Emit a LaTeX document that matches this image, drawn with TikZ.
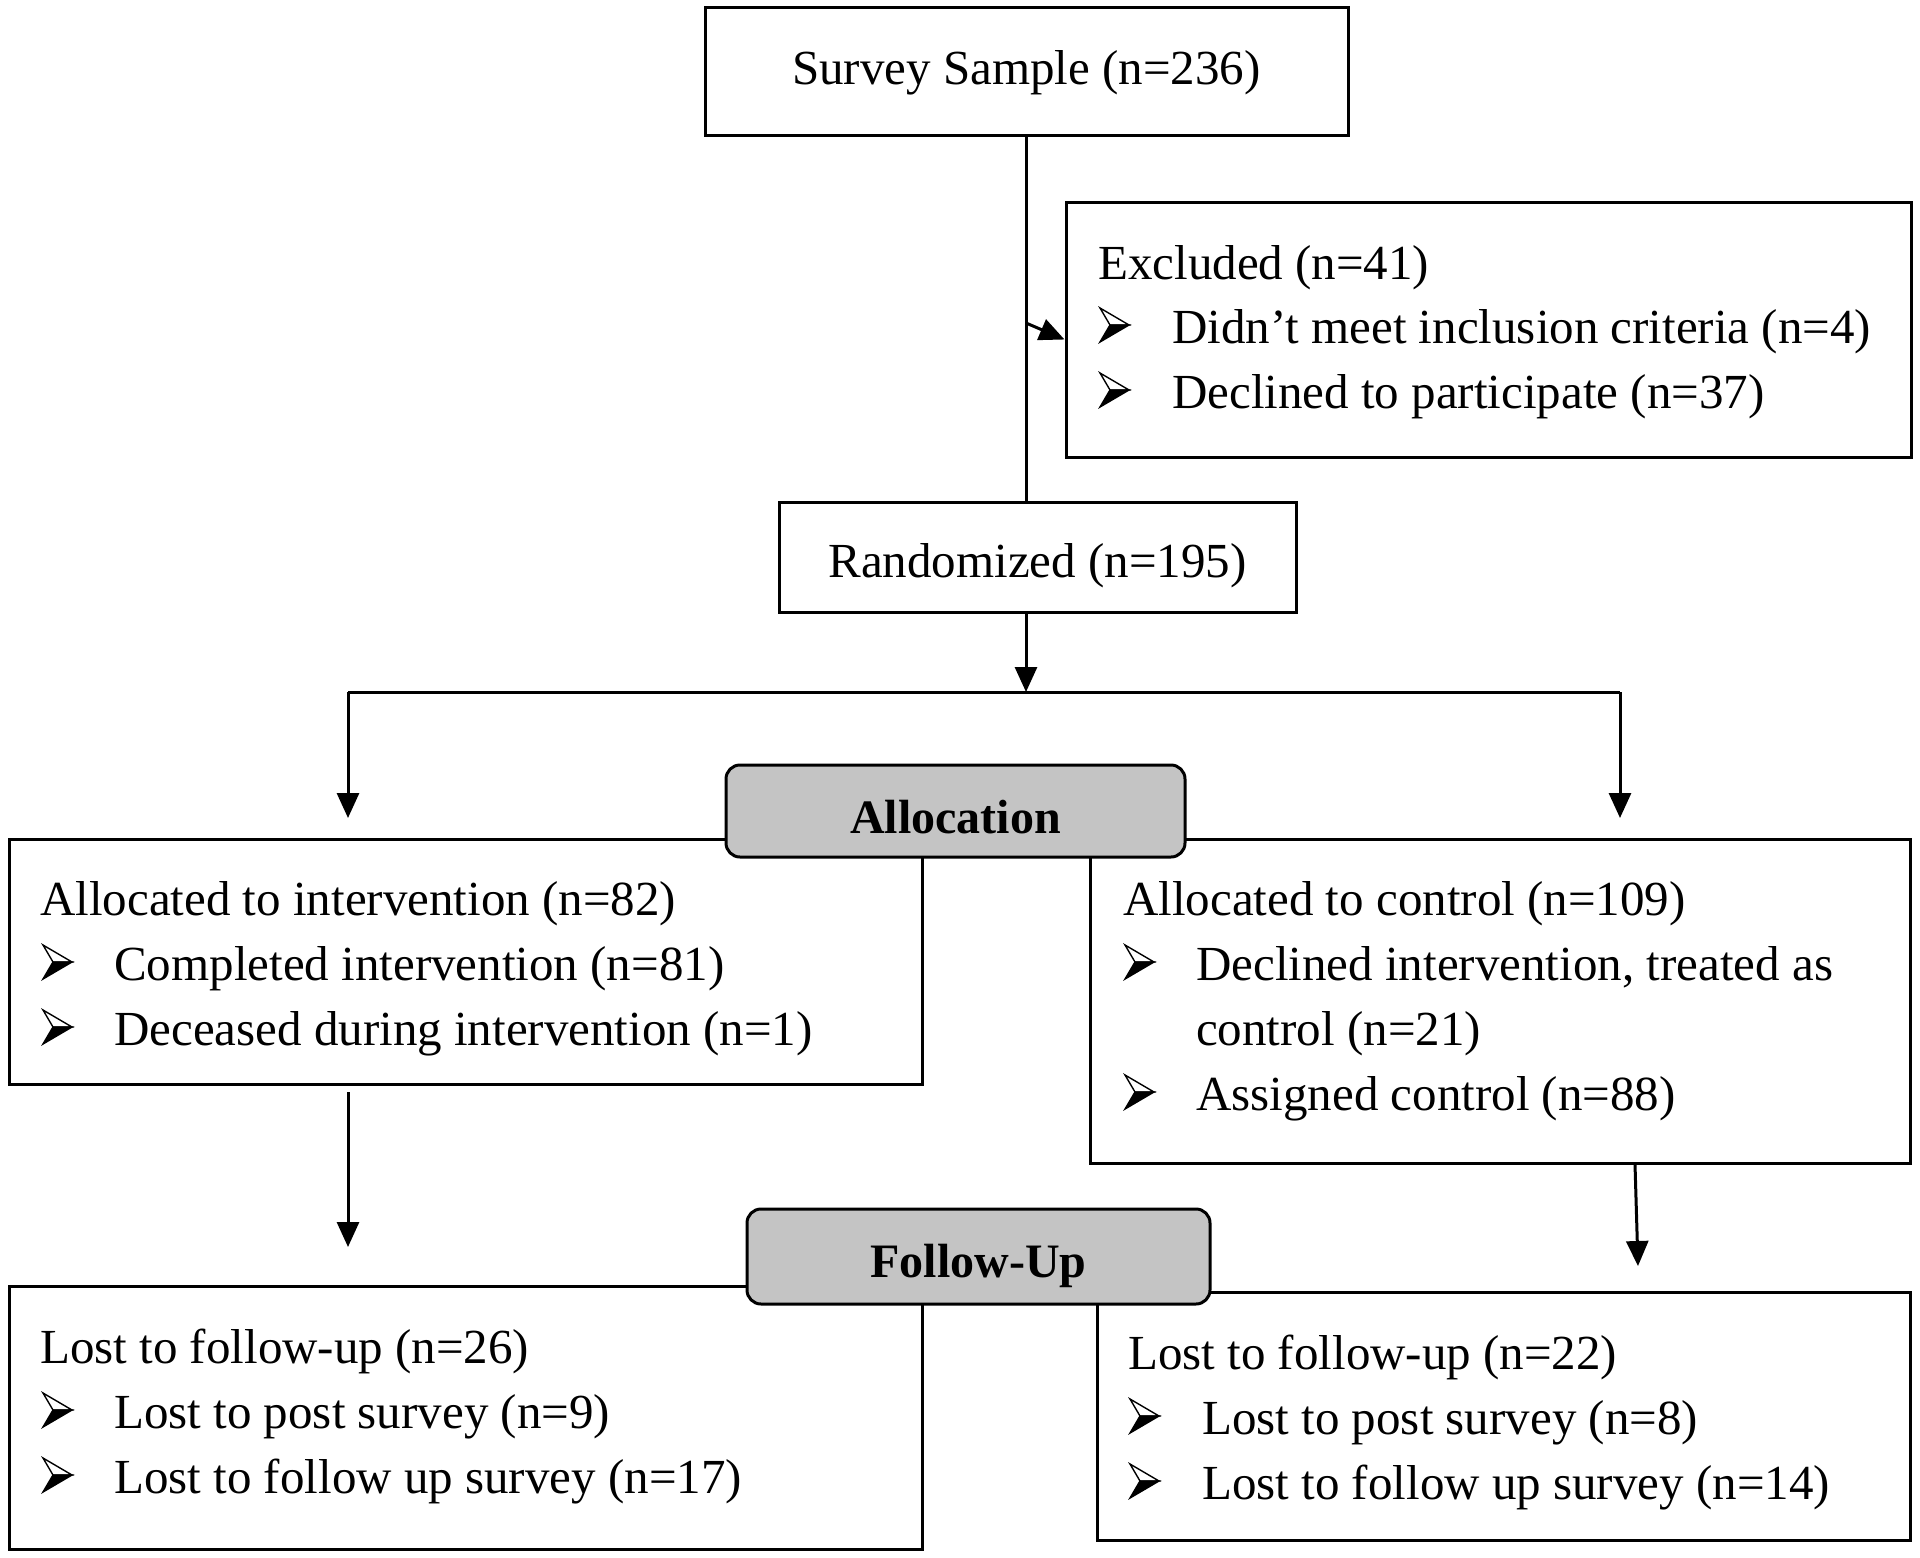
\documentclass[tikz,border=0pt]{standalone}
\usepackage{fontspec}
\setmainfont{Liberation Serif}
\usetikzlibrary{arrows.meta}
\definecolor{stagegray}{HTML}{C4C4C4}
\begin{document}
\begin{tikzpicture}[x=1pt,y=-1pt,
  box/.style={draw, line width=3pt, inner sep=0pt},
  stage/.style={draw, line width=3pt, fill=stagegray, rounded corners=14pt, inner sep=0pt},
  stagetxt/.style={inner sep=0pt, font=\fontsize{48}{60}\selectfont\bfseries},
  txt/.style={anchor=base west, inner sep=0pt, font=\fontsize{49}{65}\selectfont},
  ctr/.style={inner sep=0pt, font=\fontsize{49}{65}\selectfont},
  arr/.style={line width=3pt, -{Triangle[length=25pt,width=22pt]}},
  ln/.style={line width=3pt},
  bul/.pic={
    \filldraw[fill=white, draw=black, line width=1.4pt, line join=miter] (0,-17) -- (29,0) -- (10,0) -- cycle;
    \filldraw[fill=black, draw=black, line width=1.4pt, line join=miter] (10,0) -- (29,0) -- (0,17) -- cycle;
  }
]
\useasboundingbox (0,0) rectangle (1920,1558);
\fill[white] (0,0) rectangle (1920,1558);

% boxes
\node[box, minimum width=643pt, minimum height=128pt] (survey) at (1026.5,71) {};
\node[ctr] (surveyT) at (1026.5,73) {Survey Sample (n=236)};
\node[box, minimum width=845pt, minimum height=255pt] (excl) at (1488.5,329.5) {};
\node[box, minimum width=517pt, minimum height=110pt] (rand) at (1037.5,557) {};
\node[ctr] (randT) at (1037.5,566) {Randomized (n=195)};
\node[box, minimum width=913pt, minimum height=245pt] (interv) at (465.5,961.5) {};
\node[box, minimum width=820pt, minimum height=324pt] (ctrl) at (1500,1001) {};
\node[stage, minimum width=459pt, minimum height=92pt] (alloc) at (955.5,811) {};
\node[stagetxt] (allocT) at (955.5,817) {Allocation};
\node[box, minimum width=913pt, minimum height=263pt] (lfu) at (465.5,1417.5) {};
\node[box, minimum width=813pt, minimum height=248pt] (rfu) at (1503.5,1416) {};
\node[stage, minimum width=463pt, minimum height=95pt] (fu) at (978.5,1256.5) {};
\node[stagetxt] (fuT) at (978.5,1266) {Follow-Up};

% texts: Excluded
\node[txt] (e0) at (1098,279) {Excluded (n=41)};
\pic at (1100,325) {bul};
\node[txt] (e1) at (1172,343) {Didn’t meet inclusion criteria (n=4)};
\pic at (1100,390) {bul};
\node[txt] (e2) at (1172,408) {Declined to participate (n=37)};

% intervention
\node[txt] (i0) at (40,915) {Allocated to intervention (n=82)};
\pic at (43,962) {bul};
\node[txt] (i1) at (114,980) {Completed intervention (n=81)};
\pic at (43,1027) {bul};
\node[txt] (i2) at (114,1045) {Deceased during intervention (n=1)};

% control
\node[txt] (c0) at (1123,915) {Allocated to control (n=109)};
\pic at (1125,962) {bul};
\node[txt] (c1) at (1196,980) {Declined intervention, treated as};
\node[txt] (c1b) at (1196,1045) {control (n=21)};
\pic at (1125,1092) {bul};
\node[txt] (c2) at (1196,1110) {Assigned control (n=88)};

% left follow-up
\node[txt] (l0) at (40,1363) {Lost to follow-up (n=26)};
\pic at (43,1410) {bul};
\node[txt] (l1) at (114,1428) {Lost to post survey (n=9)};
\pic at (43,1475) {bul};
\node[txt] (l2) at (114,1493) {Lost to follow up survey (n=17)};

% right follow-up
\node[txt] (r0) at (1128,1369) {Lost to follow-up (n=22)};
\pic at (1130,1416) {bul};
\node[txt] (r1) at (1202,1434) {Lost to post survey (n=8)};
\pic at (1130,1481) {bul};
\node[txt] (r2) at (1202,1499) {Lost to follow up survey (n=14)};

% connectors
\coordinate (trunk) at (1026,135);
\coordinate (exStart) at (1026,323);
\coordinate (split) at (1026,692);
\coordinate (splitL) at (348,692);
\coordinate (splitR) at (1620,692);
\coordinate (tipL) at (348,818);
\coordinate (tipR) at (1620,818);
\coordinate (ivStart) at (348,1092);
\coordinate (ivTip) at (348,1247);
\coordinate (ctStart) at (1635,1164);
\coordinate (ctTip) at (1638,1266);

\draw[ln] (trunk) -- (trunk |- rand.north);
\draw[arr] (exStart) -- ([yshift=-10pt]excl.west);
\draw[arr] (rand.south -| trunk) -- (split);
\draw[ln] (splitL) -- (splitR);
\draw[arr] (splitL) -- (tipL);
\draw[arr] (splitR) -- (tipR);
\draw[arr] (ivStart) -- (ivTip);
\draw[arr] (ctStart) -- (ctTip);
\end{tikzpicture}
\end{document}
